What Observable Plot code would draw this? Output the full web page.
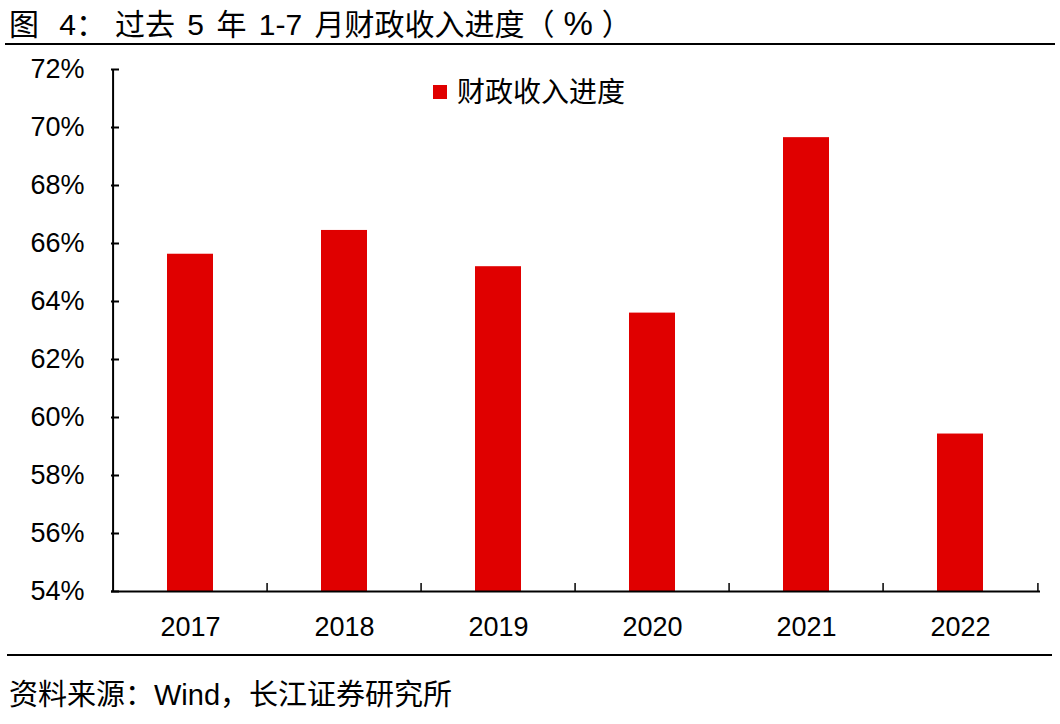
<!DOCTYPE html>
<html>
<head>
<meta charset="utf-8">
<script src="https://cdn.jsdelivr.net/npm/d3@7"></script>
<script src="https://cdn.jsdelivr.net/npm/@observablehq/plot@0.6"></script>
<style>
  html, body { margin: 0; padding: 0; background: #fff; }
  #wrap { position: relative; width: 1060px; height: 724px; overflow: hidden;
    font-family: "Liberation Sans", Arial, "Noto Sans CJK SC", sans-serif; color: #000; }
  #plot { position: absolute; left: 0; top: 0; }
  .abs { position: absolute; white-space: nowrap; }
</style>
</head>
<body>
<div id="wrap">
  <div id="plot"></div>
  <div class="abs" id="title" style="left:9px;top:6px;font-size:30px;line-height:36px;word-spacing:4px;"><span style="margin-right:8px;">图</span> 4<span style="margin-right:9px;">：</span>过去 5 年 1-7 月财政收入进度<span style="letter-spacing:9px;">（<span style="font-size:33px;">%</span>）</span></div>
  <div class="abs" style="left:5px;top:43px;width:1050px;height:2px;background:#000;"></div>
  <div class="abs" style="left:433px;top:85px;width:14px;height:14px;background:#e00000;"></div>
  <div class="abs" id="legend" style="left:457px;top:75px;font-size:28px;line-height:36px;">财政收入进度</div>
  <div class="abs" style="left:7px;top:654px;width:1045px;height:2px;background:#000;"></div>
  <div class="abs" id="source" style="left:9px;top:677px;font-size:29px;line-height:36px;">资料来源：Wind，长江证券研究所</div>
</div>
<script>
const years = ["2017", "2018", "2019", "2020", "2021", "2022"];
const progress = [65.63, 66.45, 65.2, 63.6, 69.65, 59.43];
const yTicks = [54, 56, 58, 60, 62, 64, 66, 68, 70, 72];
const seriesName = "财政收入进度";

const data = years.map((y, i) => ({year: y, value: progress[i]}));

const W = 1060, H = 724, ML = 111, MR = 20, MT = 69, MB = 133;
const step = (W - ML - MR) / years.length;
const font = '"Liberation Sans", Arial, "Noto Sans CJK SC", sans-serif';

const chart = Plot.plot({
  width: W,
  height: H,
  marginLeft: ML,
  marginRight: MR,
  marginTop: MT,
  marginBottom: MB,
  style: {fontFamily: font, fontSize: "27px", color: "#000", background: "transparent", overflow: "visible"},
  x: {domain: years, paddingInner: 0.7, paddingOuter: 0.35, label: null},
  y: {domain: [54, 72], label: null},
  marks: [
    Plot.barY(data, {x: "year", y1: 54, y2: "value", fill: "#e00000"}),
    // left axis line
    Plot.tickX([years[0]], {x: d => d, dx: -step / 2, stroke: "#000", strokeWidth: 2}),
    // bottom axis line
    Plot.ruleY([54], {stroke: "#000", strokeWidth: 2}),
    // y ticks (inward)
    Plot.tickY(yTicks, {y: d => d, insetRight: W - ML - MR - 8, stroke: "#000", strokeWidth: 2}),
    // x ticks at category boundaries (inward)
    Plot.tickX(years.slice(1), {x: d => d, dx: -step / 2, insetTop: H - MT - MB - 8, stroke: "#000", strokeWidth: 1.5}),
    Plot.tickX([years[years.length - 1]], {x: d => d, dx: step / 2, insetTop: H - MT - MB - 8, stroke: "#000", strokeWidth: 1.5}),
    Plot.axisY(yTicks, {tickSize: 0, tickPadding: 27, tickFormat: d => d + "%", fontSize: 27}),
    Plot.axisX({tickSize: 0, tickPadding: 25, fontSize: 27})
  ]
});
document.getElementById("plot").appendChild(chart);
</script>
</body>
</html>
